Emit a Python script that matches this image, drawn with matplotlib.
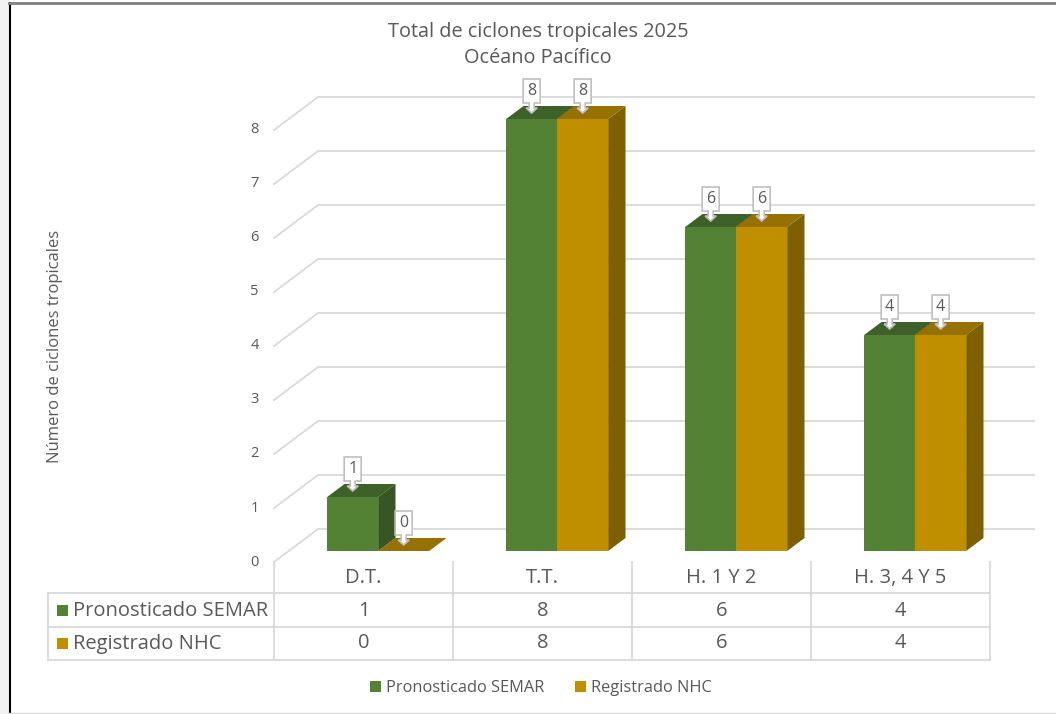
import matplotlib
matplotlib.use("Agg")
import matplotlib.pyplot as plt
from matplotlib.patches import Polygon, Rectangle, Patch
from matplotlib.lines import Line2D

# ---------------- data ----------------
categories = ["D.T.", "T.T.", "H. 1 Y 2", "H. 3, 4 Y 5"]
series_names = ["Pronosticado SEMAR", "Registrado NHC"]
semar = [1, 8, 6, 4]
nhc = [0, 8, 6, 4]
yticks = [0, 1, 2, 3, 4, 5, 6, 7, 8]
title = "Total de ciclones tropicales 2025\nOcéano Pacífico"
ylabel = "Número de ciclones tropicales"

# ---------------- style ----------------
plt.rcParams['font.family'] = ['Open Sans', 'DejaVu Sans']
TXT = "#595959"
GRID = "#d9d9d9"
front_cols = ["#548235", "#bf8f00"]
top_cols = ["#3e6129", "#977100"]
side_cols = ["#375623", "#7f6000"]

W, H = 1056, 714
PX_X = 179.0   # pixels per category
PX_Y = 54.0    # pixels per value unit
X0_PX = 363.5  # pixel x of category 0 centre (front plane)
Y0_PX = 562.0  # pixel y of value 0 (front plane)
DX = 44 / PX_X  # full depth offset (data units)
DY = 33 / PX_Y
D_FRONT = 11 / 33.0
D_BACK = D_FRONT + 13 / 33.0
BW = 51 / PX_X
sx, sy = 1 / PX_X, 1 / PX_Y

fig = plt.figure(figsize=(W / 100, H / 100), dpi=100)
ax = fig.add_axes([0, 0, 1, 1])
ax.set_xlim(-X0_PX / PX_X, (W - X0_PX) / PX_X)
ax.set_ylim((Y0_PX - H) / PX_Y, Y0_PX / PX_Y)
ax.axis("off")


def proj(x, v, d):
    return (x + d * DX, v + d * DY)


n = len(categories)
left, right = -0.5, n - 0.5

# back-wall gridlines and side-wall diagonals
for v in yticks:
    p0 = proj(left, v, 0)
    p1 = proj(left, v, 1)
    p2 = proj(right, v, 1)
    ax.plot([p0[0], p1[0], p2[0]], [p0[1], p1[1], p2[1]], color=GRID, lw=1.3, zorder=1,
            solid_joinstyle="miter")
    ax.text(left - 15 * sx, v, str(v), ha="right", va="center", fontsize=10.5, color=TXT)


def callout(xc, ytip, label):
    pts = [(0, 0), (-5.5, 5), (-2.5, 5), (-2.5, 10), (-8.5, 10), (-8.5, 34),
           (8.5, 34), (8.5, 10), (2.5, 10), (2.5, 5), (5.5, 5)]
    poly = [(xc + px * sx, ytip + py * sy) for px, py in pts]
    ax.add_patch(Polygon(poly, closed=True, facecolor="white", edgecolor="#bfbfbf",
                         lw=1.2, zorder=20, joinstyle="miter"))
    ax.text(xc, ytip + 22 * sy, label, ha="center", va="center", fontsize=11.5,
            color=TXT, zorder=21)


# bars
for i in range(n):
    for s, vals in enumerate([semar, nhc]):
        v = vals[i]
        xl = i - BW + s * BW
        xr = xl + BW
        z = 5 + s * 3
        side = [proj(xr, 0, D_FRONT), proj(xr, 0, D_BACK), proj(xr, v, D_BACK), proj(xr, v, D_FRONT)]
        ax.add_patch(Polygon(side, closed=True, facecolor=side_cols[s], edgecolor="none", zorder=z))
        top = [proj(xl, v, D_FRONT), proj(xr, v, D_FRONT), proj(xr, v, D_BACK), proj(xl, v, D_BACK)]
        ax.add_patch(Polygon(top, closed=True, facecolor=top_cols[s], edgecolor="none", zorder=z + 1))
        if v > 0:
            fx, fy = proj(xl, 0, D_FRONT)
            ax.add_patch(Rectangle((fx, fy), BW, v, facecolor=front_cols[s], edgecolor="none",
                                   zorder=z + 2))
        cx, cy = proj((xl + xr) / 2, v, D_FRONT)
        callout(cx, cy + 6 * sy, str(v))

# data table
y_hdr = (Y0_PX - 578) / PX_Y
row_lines = [(Y0_PX - p) / PX_Y for p in (593, 627, 660)]
row_text = [(Y0_PX - p) / PX_Y for p in (610.5, 643.5)]
x_tab_left = (48 - X0_PX) / PX_X
for yl in row_lines:
    ax.plot([x_tab_left, right], [yl, yl], color=GRID, lw=1.3, zorder=1)
for k in range(n + 1):
    xv = left + k
    ax.plot([xv, xv], [0, row_lines[-1]], color=GRID, lw=1.3, zorder=1)
ax.plot([x_tab_left, x_tab_left], [row_lines[0], row_lines[-1]], color=GRID, lw=1.3, zorder=1)

FS_TAB = 14.5
for i, c in enumerate(categories):
    ax.text(i, y_hdr, c, ha="center", va="center", fontsize=FS_TAB, color=TXT)
for r, (name, vals) in enumerate(zip(series_names, [semar, nhc])):
    yc = row_text[r]
    ax.add_patch(Rectangle((x_tab_left + 9 * sx, yc - 5.5 * sy), 11 * sx, 11 * sy,
                           facecolor=front_cols[r], edgecolor="none"))
    ax.text(x_tab_left + 25 * sx, yc, name, ha="left", va="center", fontsize=FS_TAB, color=TXT)
    for i, v in enumerate(vals):
        ax.text(i, yc, str(v), ha="center", va="center", fontsize=FS_TAB, color=TXT)

# title, axis title
fig.text(538 / W, 1 - 45 / H, title, ha="center", va="center", fontsize=14.3, color=TXT,
         linespacing=1.45)
fig.text(55 / W, 1 - 346 / H, ylabel, ha="center", va="center", rotation=90, fontsize=12,
         color=TXT)

# legend
handles = [Patch(facecolor=front_cols[0]), Patch(facecolor=front_cols[1])]
leg = fig.legend(handles, series_names, loc="center", bbox_to_anchor=(541 / W, 1 - 688 / H),
                 ncol=2, frameon=False, fontsize=11.8, handlelength=0.65, handleheight=0.65,
                 handletextpad=0.3, columnspacing=1.9)
for t in leg.get_texts():
    t.set_color(TXT)

# frame decorations
fig.patches.append(Rectangle((0, 0), 9 / W, 1, transform=fig.transFigure, facecolor="#f2f2f2",
                             edgecolor="none", zorder=0))
fig.lines.append(Line2D([9.5 / W, 9.5 / W], [0, 1 - 3 / H], transform=fig.transFigure,
                        color="black", lw=1.5))
fig.lines.append(Line2D([9 / W, 1], [1 - 2.5 / H, 1 - 2.5 / H], transform=fig.transFigure,
                        color="#808080", lw=2))
fig.lines.append(Line2D([9 / W, 1], [1 - 712.5 / H, 1 - 712.5 / H], transform=fig.transFigure,
                        color="#d9d9d9", lw=1))

fig.savefig("out.png", dpi=100)
